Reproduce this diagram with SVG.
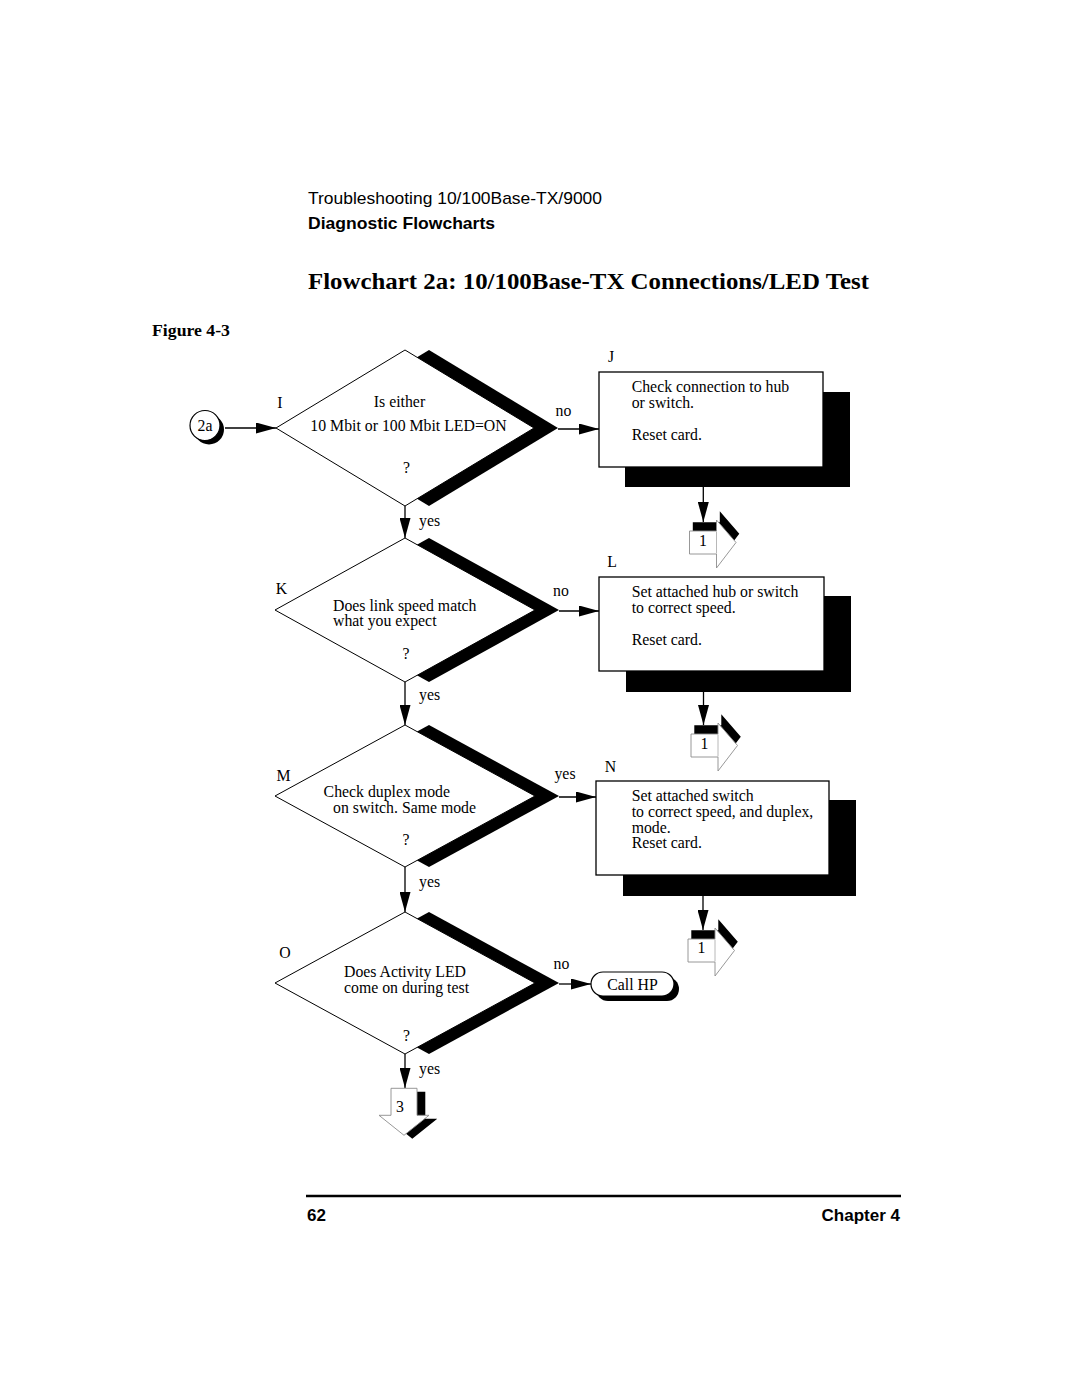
<svg xmlns="http://www.w3.org/2000/svg" xmlns:xlink="http://www.w3.org/1999/xlink" width="1080" height="1397" viewBox="0 0 1080 1397">
<style>
  .t { font-family: "Liberation Serif", "Times New Roman", serif; font-size: 15.8px; fill: #000; }
  .tm { text-anchor: middle; }
  .hdr { font-family: "Liberation Sans", Arial, sans-serif; font-size: 17px; fill: #000; }
  .b { font-weight: bold; }
  .ttl { font-family: "Liberation Serif", "Times New Roman", serif; font-weight: bold; fill: #000; }
  .dia { fill: #fff; stroke: #000; stroke-width: 1; }
  .shd { fill: #000; stroke: none; }
  .box { fill: #fff; stroke: #000; stroke-width: 1.3; }
  .ln { fill: none; stroke: #000; stroke-width: 1.3; }
  .gw { fill: #fff; stroke: #8c8c8c; stroke-width: 0.9; }
  .gl { fill: none; stroke: #b0b0b0; stroke-width: 0.9; }
</style>
<defs>
  <marker id="ah" markerUnits="userSpaceOnUse" markerWidth="20" markerHeight="11" refX="20" refY="5.5" orient="auto">
    <path d="M0,0 L20,5.5 L0,11 Z" fill="#000"/>
  </marker>
  <g id="offR">
    <path class="shd" transform="translate(3.3,-8.7)" d="M0,0 H27 V-11 L46.5,11.5 L27,37 V23 H0 Z"/>
    <path class="gw" d="M0,0 H27 V-11 L46.5,11.5 L27,37 V23 H0 Z"/>
    <path class="gl" d="M27,0.5 V22.5"/>
  </g>
  <g id="offD">
    <path class="shd" transform="translate(8.3,3.4)" d="M0,0 H26 V27 H38 L13,47 L-12,27 H0 Z"/>
    <path class="gw" d="M0,0 H26 V27 H38 L13,47 L-12,27 H0 Z"/>
  </g>
</defs>
<rect width="1080" height="1397" fill="#fff"/>

<g id="header">
  <text class="hdr" x="308" y="204" font-size="17.5" textLength="294" lengthAdjust="spacingAndGlyphs">Troubleshooting 10/100Base-TX/9000</text>
  <text class="hdr b" x="308" y="229" textLength="187" lengthAdjust="spacingAndGlyphs">Diagnostic Flowcharts</text>
  <text class="ttl" x="308" y="289" font-size="23" textLength="561" lengthAdjust="spacingAndGlyphs">Flowchart 2a: 10/100Base-TX Connections/LED Test</text>
  <text class="ttl" x="152" y="336" font-size="17.5" textLength="78" lengthAdjust="spacingAndGlyphs">Figure 4-3</text>
</g>

<g id="footer">
  <line x1="306" y1="1196" x2="901" y2="1196" stroke="#000" stroke-width="2.5"/>
  <text class="hdr b" x="307" y="1221">62</text>
  <text class="hdr b" x="900" y="1221" text-anchor="end">Chapter 4</text>
</g>

<g id="connectors">
  <line class="ln" x1="225" y1="428" x2="276" y2="428" marker-end="url(#ah)"/>
  <line class="ln" x1="558" y1="429" x2="599" y2="429" marker-end="url(#ah)"/>
  <line class="ln" x1="405" y1="506" x2="405" y2="538" marker-end="url(#ah)"/>
  <line class="ln" x1="703.3" y1="487" x2="703.3" y2="522" marker-end="url(#ah)"/>
  <line class="ln" x1="559" y1="611" x2="599" y2="611" marker-end="url(#ah)"/>
  <line class="ln" x1="405" y1="682" x2="405" y2="725" marker-end="url(#ah)"/>
  <line class="ln" x1="703.5" y1="692" x2="703.5" y2="725" marker-end="url(#ah)"/>
  <line class="ln" x1="559" y1="797" x2="596" y2="797" marker-end="url(#ah)"/>
  <line class="ln" x1="405" y1="867" x2="405" y2="912" marker-end="url(#ah)"/>
  <line class="ln" x1="703" y1="896" x2="703" y2="930" marker-end="url(#ah)"/>
  <line class="ln" x1="559" y1="984" x2="591" y2="984" marker-end="url(#ah)"/>
  <line class="ln" x1="405" y1="1054" x2="405" y2="1088" marker-end="url(#ah)"/>
  <text class="t tm" x="563.5" y="416">no</text>
  <text class="t" x="419" y="526">yes</text>
  <text class="t tm" x="561" y="596">no</text>
  <text class="t" x="419" y="700">yes</text>
  <text class="t tm" x="565" y="779">yes</text>
  <text class="t" x="419" y="887">yes</text>
  <text class="t tm" x="561.5" y="969">no</text>
  <text class="t" x="419" y="1074">yes</text>
</g>

<g id="start-2a">
  <circle cx="209" cy="429.5" r="15" class="shd"/>
  <circle cx="205" cy="425.5" r="15" fill="#fff" stroke="#000" stroke-width="1.2"/>
  <text class="t tm" x="205" y="431">2a</text>
</g>

<g id="node-I">
  <polygon class="shd" transform="translate(24,0)" points="405,350 534,428 405,506 276,428"/>
  <polygon class="dia" points="405,350 534,428 405,506 276,428"/>
  <text class="t tm" x="280" y="408">I</text>
  <text class="t tm" x="399.5" y="407">Is either</text>
  <text class="t tm" x="408.5" y="431">10 Mbit or 100 Mbit LED=ON</text>
  <text class="t tm" x="406.5" y="473">?</text>
</g>

<g id="node-J">
  <rect class="shd" x="625" y="392" width="225" height="95"/>
  <rect class="box" x="599" y="372" width="224" height="95"/>
  <text class="t tm" x="611" y="362">J</text>
  <text class="t" x="631.7" y="392">Check connection to hub</text>
  <text class="t" x="631.7" y="408">or switch.</text>
  <text class="t" x="631.7" y="440">Reset card.</text>
</g>

<g id="offpage-1a">
  <use xlink:href="#offR" x="689.5" y="531"/>
  <text class="t tm" x="703" y="546">1</text>
</g>

<g id="node-K">
  <polygon class="shd" transform="translate(24,0)" points="405,538 535,610 405,682 275,610"/>
  <polygon class="dia" points="405,538 535,610 405,682 275,610"/>
  <text class="t tm" x="281.5" y="594">K</text>
  <text class="t" x="333" y="610.5">Does link speed match</text>
  <text class="t" x="333" y="626">what you expect</text>
  <text class="t tm" x="406" y="659">?</text>
</g>

<g id="node-L">
  <rect class="shd" x="626" y="596" width="225" height="96"/>
  <rect class="box" x="599" y="577" width="225" height="94"/>
  <text class="t tm" x="612" y="567">L</text>
  <text class="t" x="631.7" y="597">Set attached hub or switch</text>
  <text class="t" x="631.7" y="613">to correct speed.</text>
  <text class="t" x="631.7" y="645">Reset card.</text>
</g>

<g id="offpage-1b">
  <use xlink:href="#offR" x="691" y="734"/>
  <text class="t tm" x="704.5" y="749">1</text>
</g>

<g id="node-M">
  <polygon class="shd" transform="translate(24,0)" points="405,725 535,796 405,867 275,796"/>
  <polygon class="dia" points="405,725 535,796 405,867 275,796"/>
  <text class="t tm" x="283.5" y="780.5">M</text>
  <text class="t" x="323.6" y="796.5">Check duplex mode</text>
  <text class="t" x="333" y="812.5">on switch. Same mode</text>
  <text class="t tm" x="406" y="845">?</text>
</g>

<g id="node-N">
  <rect class="shd" x="623" y="800" width="233" height="96"/>
  <rect class="box" x="596" y="781" width="233" height="94"/>
  <text class="t tm" x="610.5" y="772">N</text>
  <text class="t" x="631.7" y="801">Set attached switch</text>
  <text class="t" x="631.7" y="817">to correct speed, and duplex,</text>
  <text class="t" x="631.7" y="833">mode.</text>
  <text class="t" x="631.7" y="848">Reset card.</text>
</g>

<g id="offpage-1c">
  <use xlink:href="#offR" x="688" y="939"/>
  <text class="t tm" x="701.5" y="953">1</text>
</g>

<g id="node-O">
  <polygon class="shd" transform="translate(24,0)" points="405,912 535,983 405,1054 275,983"/>
  <polygon class="dia" points="405,912 535,983 405,1054 275,983"/>
  <text class="t tm" x="285" y="958">O</text>
  <text class="t" x="344" y="977">Does Activity LED</text>
  <text class="t" x="344" y="993">come on during test</text>
  <text class="t tm" x="406.5" y="1041">?</text>
</g>

<g id="node-callhp">
  <rect class="shd" x="596" y="977" width="83" height="24" rx="12"/>
  <rect x="591" y="972" width="83" height="24" rx="12" fill="#fff" stroke="#000" stroke-width="1.2"/>
  <text class="t tm" x="632.5" y="989.5">Call HP</text>
</g>

<g id="offpage-3">
  <use xlink:href="#offD" x="391" y="1088.3"/>
  <text class="t tm" x="400" y="1112">3</text>
</g>
</svg>
